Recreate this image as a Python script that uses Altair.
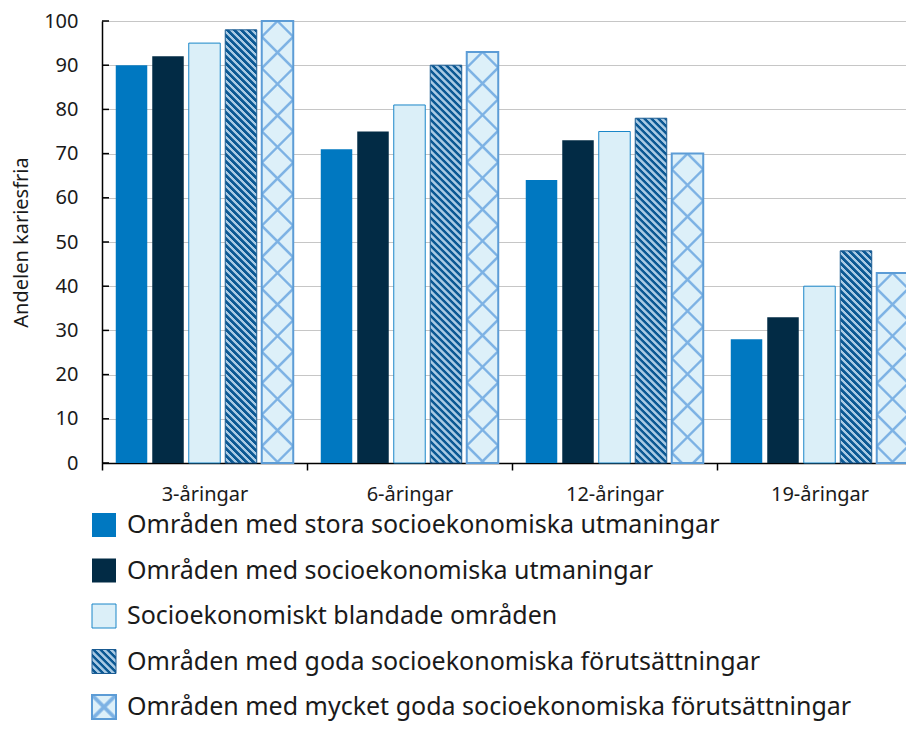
import math
import altair as alt

# ---------------- data ----------------
groups = ["3-åringar", "6-åringar", "12-åringar", "19-åringar"]
series = [
    "Områden med stora socioekonomiska utmaningar",
    "Områden med socioekonomiska utmaningar",
    "Socioekonomiskt blandade områden",
    "Områden med goda socioekonomiska förutsättningar",
    "Områden med mycket goda socioekonomiska förutsättningar",
]
stora_utmaningar = [90, 71, 64, 28]
utmaningar = [92, 75, 73, 33]
blandade = [95, 81, 75, 40]
goda = [98, 90, 78, 48]
mycket_goda = [100, 93, 70, 43]
values = [stora_utmaningar, utmaningar, blandade, goda, mycket_goda]
y_ticks = list(range(0, 101, 10))

# ---------------- styles ----------------
FONT = "Noto Sans"
PLOT_W, PLOT_H = 820, 442
X_PAD_INNER, X_PAD_OUTER = 0.137, 0.377
band = PLOT_W / len(groups)
off_step = band / (len(series) - X_PAD_INNER + 2 * X_PAD_OUTER)
BAR_W = off_step * (1 - X_PAD_INNER)

BLUE = "#0078C1"
NAVY = "#022B45"
LIGHT = "#DBEFF8"
LIGHT_STROKE = "#1A86C8"
STRIPE_DARK = "#0C5994"
STRIPE_LIGHT = "#A9CAE4"
STRIPE_STROKE = "#1A5B92"
HATCH_BG = "#DDF0F9"
HATCH_LINE = "rgba(125,178,228,1)"
HATCH_NONE = "rgba(125,178,228,0)"
HATCH_STROKE = "#5C9CD6"


def stripe_gradient(w, h, period, phase, pattern, direction):
    """Linear gradient producing 45-degree stripes inside a w x h box."""
    L = w + h
    k = L / (w * w + h * h)
    if direction == "back":      # '\' lines
        x1, y1, x2, y2 = 1.0, 0.0, 1 - k * w, k * h
    else:                         # '/' lines
        x1, y1, x2, y2 = 0.0, 0.0, k * w, k * h
    if abs(x2) < 1e-6:
        x2 = 1e-6
    raw = []
    n0 = math.floor(-phase / period) - 1
    n1 = math.ceil((L - phase) / period) + 1
    for n in range(n0, n1 + 1):
        base = phase + n * period
        for frac, col in pattern:
            raw.append((base + frac * period, col))
    stops = []
    prev = None
    for f, col in raw:
        if f < -period or f > L + period:
            continue
        off = min(max(f / L, 0.0), 1.0)
        if prev is not None and off < prev:
            off = prev
        prev = off
        stops.append({"offset": round(off, 5), "color": col})
    return {"gradient": "linear", "x1": round(x1, 6), "y1": round(y1, 6),
            "x2": round(x2, 6), "y2": round(y2, 6), "stops": stops}


STRIPE_PAT = [(0.0, STRIPE_DARK), (0.42, STRIPE_DARK), (0.55, STRIPE_LIGHT), (0.92, STRIPE_LIGHT)]
HATCH_PAT = [(0.0, HATCH_LINE), (0.03, HATCH_LINE), (0.08, HATCH_NONE),
             (0.92, HATCH_NONE), (0.97, HATCH_LINE)]

fills = [BLUE, NAVY, LIGHT, None, HATCH_BG]
strokes = [BLUE, NAVY, LIGHT_STROKE, STRIPE_STROKE, HATCH_STROKE]
stroke_w = [0, 0, 1, 1, 2]

bar_records, hatch_records = [], []
for si, s in enumerate(series):
    for gi, g in enumerate(groups):
        v = values[si][gi]
        h = v / 100 * PLOT_H
        if si == 3:
            fill = stripe_gradient(BAR_W, h, 7.0, 0.0, STRIPE_PAT, "back")
        else:
            fill = fills[si]
        bar_records.append({"group": g, "series": s, "value": v, "fill": fill,
                            "stroke": strokes[si], "sw": stroke_w[si]})
        if si == 4:
            hatch_records.append({
                "group": g, "series": s, "value": v,
                "h1": stripe_gradient(BAR_W, h, BAR_W, BAR_W / 2, HATCH_PAT, "back"),
                "h2": stripe_gradient(BAR_W, h, BAR_W, BAR_W / 2, HATCH_PAT, "fwd"),
            })

SQ = 24.0
legend_records = []
for si, s in enumerate(series):
    if si == 3:
        lf = stripe_gradient(SQ, SQ, 7.0, 0.0, STRIPE_PAT, "back")
    else:
        lf = fills[si]
    legend_records.append({"series": s, "fill": lf, "stroke": strokes[si],
                           "sw": max(stroke_w[si], 0)})
legend_hatch = [{
    "series": series[4],
    "h1": stripe_gradient(SQ, SQ, 2 * SQ, SQ, HATCH_PAT, "back"),
    "h2": stripe_gradient(SQ, SQ, 2 * SQ, SQ, HATCH_PAT, "fwd"),
}]

# ---------------- encodings ----------------
x_enc = alt.X("group:N", sort=groups, title=None,
              scale=alt.Scale(paddingInner=0, paddingOuter=0),
              axis=alt.Axis(labelAngle=0, tickBand="extent", tickSize=7, tickWidth=1.5,
                            tickColor="black", domainColor="black", domainWidth=1.5,
                            labelFontSize=20, labelPadding=14, labelColor="#1a1a1a",
                            labelFont=FONT, grid=False))
xo_enc = alt.XOffset("series:N", sort=series,
                     scale=alt.Scale(paddingInner=X_PAD_INNER, paddingOuter=X_PAD_OUTER))
y_enc = alt.Y("value:Q", stack=None, scale=alt.Scale(domain=[0, 100], nice=False),
              axis=alt.Axis(values=y_ticks, title="Andelen kariesfria", tickSize=0,
                            domainColor="black", domainWidth=1.5, gridColor="#C6C6C6",
                            labelFontSize=20, labelPadding=24, labelColor="#1a1a1a",
                            labelFont=FONT, titleFont=FONT, titleFontSize=20,
                            titleFontWeight="normal", titleColor="#1a1a1a",
                            titlePadding=12))

bars = alt.Chart(alt.Data(values=bar_records)).mark_bar().encode(
    x=x_enc, xOffset=xo_enc, y=y_enc, fill=alt.Fill("fill:N", scale=None))
hatch1 = alt.Chart(alt.Data(values=hatch_records)).mark_bar().encode(
    x=x_enc, xOffset=xo_enc, y=y_enc, fill=alt.Fill("h1:N", scale=None))
hatch2 = alt.Chart(alt.Data(values=hatch_records)).mark_bar().encode(
    x=x_enc, xOffset=xo_enc, y=y_enc, fill=alt.Fill("h2:N", scale=None))
outline = alt.Chart(alt.Data(values=bar_records)).mark_bar(fillOpacity=0).encode(
    x=x_enc, xOffset=xo_enc, y=y_enc,
    stroke=alt.Stroke("stroke:N", scale=None),
    strokeWidth=alt.StrokeWidth("sw:Q", scale=None))
inner_ticks = alt.Chart(alt.Data(values=[{"value": t} for t in y_ticks])).mark_rule(
    color="black", strokeWidth=1.5).encode(
    y=y_enc, x=alt.value(0), x2=alt.value(7))

main = alt.layer(bars, hatch1, hatch2, outline, inner_ticks)

ly = alt.Y("series:N", sort=series, axis=None,
           scale=alt.Scale(type="point", range=[504, 686], padding=0))
leg_sq = alt.Chart(alt.Data(values=legend_records)).mark_point(
    shape="square", filled=True, size=SQ * SQ, opacity=1).encode(
    x=alt.value(2), y=ly, fill=alt.Fill("fill:N", scale=None))
leg_h1 = alt.Chart(alt.Data(values=legend_hatch)).mark_point(
    shape="square", filled=True, size=SQ * SQ, opacity=1).encode(
    x=alt.value(2), y=ly, fill=alt.Fill("h1:N", scale=None))
leg_h2 = alt.Chart(alt.Data(values=legend_hatch)).mark_point(
    shape="square", filled=True, size=SQ * SQ, opacity=1).encode(
    x=alt.value(2), y=ly, fill=alt.Fill("h2:N", scale=None))
leg_out = alt.Chart(alt.Data(values=legend_records)).mark_point(
    shape="square", filled=False, size=SQ * SQ, opacity=1).encode(
    x=alt.value(2), y=ly, stroke=alt.Stroke("stroke:N", scale=None),
    strokeWidth=alt.StrokeWidth("sw:Q", scale=None))
leg_txt = alt.Chart(alt.Data(values=legend_records)).mark_text(
    align="left", baseline="middle", fontSize=25, font=FONT, color="#1a1a1a").encode(
    x=alt.value(25), y=ly, text="series:N")

legend = alt.layer(leg_sq, leg_h1, leg_h2, leg_out, leg_txt)

chart = alt.layer(main, legend).resolve_scale(y="independent").properties(
    width=PLOT_W, height=PLOT_H,
    autosize=alt.AutoSizeParams(type="none"),
    padding={"left": 94, "top": 13, "right": -16, "bottom": 258},
).configure_view(stroke=None).configure(background="white")

chart.save("out.html", embed_options={"renderer": "svg", "actions": False})
